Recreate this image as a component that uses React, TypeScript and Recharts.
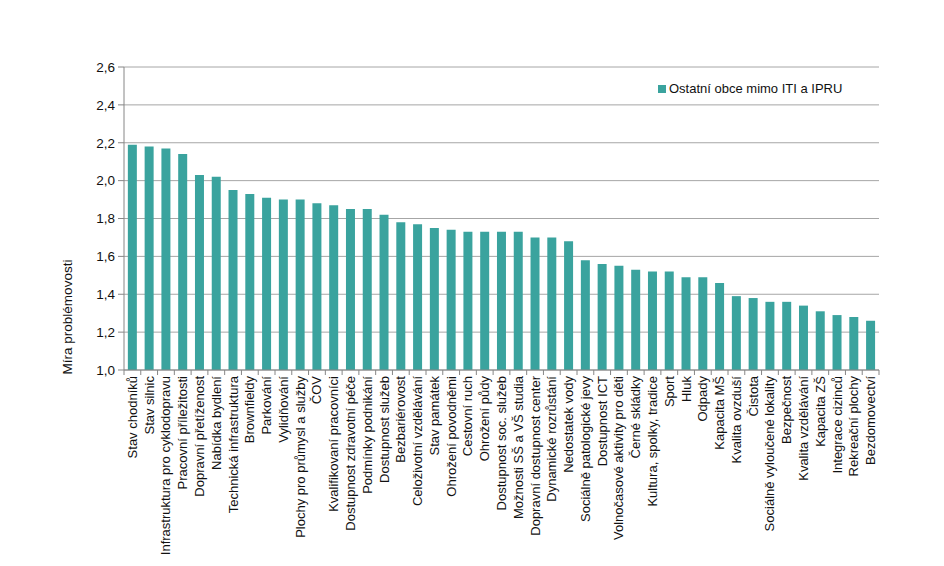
import { BarChart, Bar, XAxis, YAxis, CartesianGrid, Legend } from 'recharts';

const categories = [
  'Stav chodníků', 'Stav silnic', 'Infrastruktura pro cyklodopravu', 'Pracovní příležitosti',
  'Dopravní přetíženost', 'Nabídka bydlení', 'Technická infrastruktura', 'Brownfieldy',
  'Parkování', 'Vylidňování', 'Plochy pro průmysl a služby', 'ČOV',
  'Kvalifikovaní pracovníci', 'Dostupnost zdravotní péče', 'Podmínky podnikání', 'Dostupnost služeb',
  'Bezbariérovost', 'Celoživotní vzdělávání', 'Stav památek', 'Ohrožení povodněmi',
  'Cestovní ruch', 'Ohrožení půdy', 'Dostupnost soc. služeb', 'Možnosti SŠ a VŠ studia',
  'Dopravní dostupnost center', 'Dynamické rozrůstání', 'Nedostatek vody', 'Sociálně patologické jevy',
  'Dostupnost ICT', 'Volnočasové aktivity pro děti', 'Černé skládky', 'Kultura, spolky, tradice',
  'Sport', 'Hluk', 'Odpady', 'Kapacita MŠ',
  'Kvalita ovzduší', 'Čistota', 'Sociálně vyloučené lokality', 'Bezpečnost',
  'Kvalita vzdělávání', 'Kapacita ZŠ', 'Integrace cizinců', 'Rekreační plochy',
  'Bezdomovectví',
];

const values = [
  2.19, 2.18, 2.17, 2.14, 2.03, 2.02, 1.95, 1.93, 1.91, 1.90, 1.90, 1.88,
  1.87, 1.85, 1.85, 1.82, 1.78, 1.77, 1.75, 1.74, 1.73, 1.73, 1.73, 1.73,
  1.70, 1.70, 1.68, 1.58, 1.56, 1.55, 1.53, 1.52, 1.52, 1.49, 1.49, 1.46,
  1.39, 1.38, 1.36, 1.36, 1.34, 1.31, 1.29, 1.28, 1.26,
];

const yTicks = [1.0, 1.2, 1.4, 1.6, 1.8, 2.0, 2.2, 2.4, 2.6];
const seriesName = 'Ostatní obce mimo ITI a IPRU';
const yLabel = 'Míra problémovosti';

const BAR_COLOR = '#3aa39e';
const GRID = '#a6a6a6';
const AXIS = '#868686';
const FONT = '"Liberation Sans", Arial, sans-serif';

const W = 928;
const H = 550;
const margin = { top: 59, right: 57, bottom: 0, left: 0 };
const Y_W = 116;
const PLOT_W = W - margin.left - margin.right - Y_W;
const BAND = PLOT_W / categories.length;

const data = categories.map((name, i) => ({ name, value: values[i] }));

const fmt = (v: number) => v.toFixed(1).replace('.', ',');

function XTick(props: any) {
  const { x, y, payload, index } = props;
  const last = index === categories.length - 1;
  return (
    <g>
      <line x1={x - BAND / 2} x2={x - BAND / 2} y1={y} y2={y + 5} stroke={AXIS} />
      {last && <line x1={x + BAND / 2} x2={x + BAND / 2} y1={y} y2={y + 5} stroke={AXIS} />}
      <text
        x={x}
        y={y + 6}
        transform={`rotate(-90, ${x}, ${y + 6})`}
        textAnchor="end"
        dy="0.35em"
        fontSize={13}
        fontFamily={FONT}
        fill="#111"
      >
        {payload.value}
      </text>
    </g>
  );
}

function YLabel(props: any) {
  const vb = props.viewBox || { x: 0 };
  const x = vb.x + 59;
  const y = 309;
  return (
    <text
      x={x}
      y={y}
      transform={`rotate(-90, ${x}, ${y})`}
      textAnchor="middle"
      dy="0.35em"
      fontSize={13.5}
      fontFamily={FONT}
      fill="#111"
    >
      {yLabel}
    </text>
  );
}

function LegendBox() {
  return (
    <div style={{ display: 'flex', alignItems: 'center', fontFamily: FONT, fontSize: 13, color: '#111' }}>
      <span style={{ width: 8, height: 8, background: BAR_COLOR, marginRight: 3, display: 'inline-block' }} />
      <span>{seriesName}</span>
    </div>
  );
}

export default function App() {
  return (
    <div style={{ width: W, height: H, background: '#fff' }}>
      <BarChart width={W} height={H} data={data} margin={margin} barCategoryGap="23%">
        <CartesianGrid yAxisId="l" horizontal vertical={false} stroke={GRID} />
        <XAxis
          dataKey="name"
          interval={0}
          height={H - 362}
          tickSize={0}
          tickMargin={0}
          tickLine={false}
          axisLine={{ stroke: AXIS }}
          tick={<XTick />}
        />
        <YAxis
          yAxisId="l"
          width={Y_W}
          domain={[1, 2.6]}
          ticks={yTicks}
          tickFormatter={fmt}
          tickSize={6}
          tickMargin={3}
          axisLine={{ stroke: AXIS }}
          tickLine={{ stroke: AXIS }}
          tick={{ fontSize: 13.5, fontFamily: FONT, fill: '#111' }}
          label={<YLabel />}
        />
        <YAxis
          yAxisId="r"
          orientation="right"
          width={0}
          domain={[1, 2.6]}
          tick={false}
          tickLine={false}
          axisLine={{ stroke: GRID }}
        />
        <Legend
          content={<LegendBox />}
          wrapperStyle={{ position: 'absolute', top: 73, left: 650, width: 'auto', height: 0, overflow: 'visible' }}
        />
        <Bar yAxisId="l" dataKey="value" name={seriesName} fill={BAR_COLOR} isAnimationActive={false} />
      </BarChart>
    </div>
  );
}
